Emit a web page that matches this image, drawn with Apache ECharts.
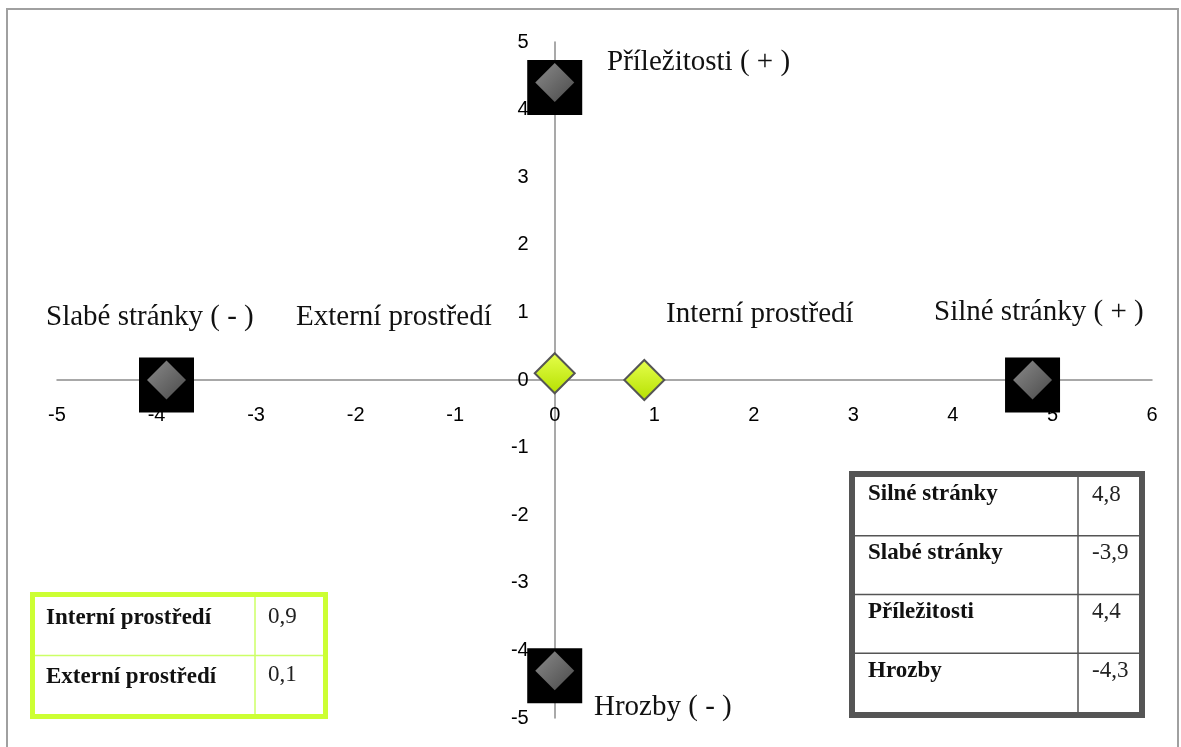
<!DOCTYPE html>
<html>
<head>
<meta charset="utf-8">
<script src="https://cdn.jsdelivr.net/npm/echarts@6/dist/echarts.min.js"></script>
<style>html,body{margin:0;padding:0;background:#fff;}#c{width:1181px;height:747px;}</style>
</head>
<body>
<div id="c"></div>
<script>
// ---- data ----
const mainNames = ['Silné stránky', 'Slabé stránky', 'Příležitosti', 'Hrozby'];
const mainValues = [4.8, -3.9, 4.4, -4.3];
const envNames = ['Interní prostředí', 'Externí prostředí'];
const envValues = [0.9, 0.1];
const xMin = -5, xMax = 6, yMin = -5, yMax = 5;
const quadrantLabels = ['Příležitosti ( + )', 'Slabé stránky ( - )', 'Externí prostředí', 'Interní prostředí', 'Silné stránky ( + )', 'Hrozby ( - )'];
const valueText = v => String(v).replace('.', ',');

// points: strengths/weaknesses on x axis, opportunities/threats on y axis
const mainPts = [
  [mainValues[0], 0], [mainValues[1], 0], [0, mainValues[2]], [0, mainValues[3]]
];
const envPts = [[envValues[0], 0], [0, envValues[1]]];

const serif = '"Liberation Serif", "Times New Roman", serif';
const G = {left: 57, right: 29, top: 42, bottom: 29};
const W = 1181, H = 747;
const plotW = W - G.left - G.right, plotH = H - G.top - G.bottom;
const zeroXoff = plotW * (0 - xMin) / (xMax - xMin);   // distance of x=0 from left edge
const zeroYoff = plotH * (0 - yMin) / (yMax - yMin);   // distance of y=0 from bottom edge

const graphics = [];
// outer frame
graphics.push({type: 'rect', z: 0, shape: {x: 7, y: 9, width: 1171, height: 760}, style: {fill: 'none', stroke: '#a0a0a0', lineWidth: 2}, silent: true});
// quadrant labels
const qPos = [[607, 60], [46, 315], [296, 315], [666, 312], [934, 310], [594, 705]];
quadrantLabels.forEach((t, i) => {
  graphics.push({type: 'text', z: 50, left: qPos[i][0], top: qPos[i][1] - 12,
    style: {text: t, font: '29px ' + serif, fill: '#111', backgroundColor: '#fff'}});
});
// right table
(function () {
  const x0 = 855, y0 = 477, w = 290, rowH = 58.75, colX = 1078;
  const h = rowH * mainNames.length;
  graphics.push({type: 'rect', z: 40, shape: {x: x0 - 3, y: y0 - 3, width: w, height: h + 6}, style: {fill: '#fff', stroke: '#555', lineWidth: 6}});
  graphics.push({type: 'line', z: 41, shape: {x1: colX, y1: y0, x2: colX, y2: y0 + h}, style: {stroke: '#555', lineWidth: 1.5}});
  for (let i = 1; i < mainNames.length; i++) {
    graphics.push({type: 'line', z: 41, shape: {x1: x0, y1: y0 + i * rowH, x2: x0 + w - 6, y2: y0 + i * rowH}, style: {stroke: '#555', lineWidth: 1.5}});
  }
  mainNames.forEach((n, i) => {
    graphics.push({type: 'text', z: 42, left: 868, top: y0 + i * rowH + 6, style: {text: n, font: 'bold 23px ' + serif, fill: '#111'}});
    graphics.push({type: 'text', z: 42, left: 1092, top: y0 + i * rowH + 6, style: {text: valueText(mainValues[i]), font: '23px ' + serif, fill: '#222'}});
  });
})();
// left table
(function () {
  const x0 = 35, y0 = 597, w = 288, rowH = 58.5, colX = 255;
  const h = rowH * envNames.length;
  graphics.push({type: 'rect', z: 40, shape: {x: x0 - 2.5, y: y0 - 2.5, width: w + 5, height: h + 5}, style: {fill: '#fff', stroke: '#ccff33', lineWidth: 5}});
  graphics.push({type: 'line', z: 41, shape: {x1: colX, y1: y0, x2: colX, y2: y0 + h}, style: {stroke: '#ccff66', lineWidth: 1.5}});
  for (let i = 1; i < envNames.length; i++) {
    graphics.push({type: 'line', z: 41, shape: {x1: x0, y1: y0 + i * rowH, x2: x0 + w, y2: y0 + i * rowH}, style: {stroke: '#ccff66', lineWidth: 1.5}});
  }
  envNames.forEach((n, i) => {
    graphics.push({type: 'text', z: 42, left: 46, top: y0 + i * rowH + 10, style: {text: n, font: 'bold 23px ' + serif, fill: '#111'}});
    graphics.push({type: 'text', z: 42, left: 268, top: y0 + i * rowH + 8, style: {text: valueText(envValues[i]), font: '23px ' + serif, fill: '#222'}});
  });
})();

const chart = echarts.init(document.getElementById('c'), null, {renderer: 'canvas'});
const axisCommon = {
  type: 'value', interval: 1,
  axisLine: {onZero: false, lineStyle: {color: '#8c8c8c', width: 1.5}},
  axisTick: {show: false},
  splitLine: {show: false},
  axisLabel: {color: '#000', fontSize: 20, margin: 26, fontFamily: '"Liberation Sans", Arial, sans-serif'}
};
chart.setOption({
  animation: false,
  backgroundColor: '#fff',
  grid: {left: G.left, right: G.right, top: G.top, bottom: G.bottom, containLabel: false},
  xAxis: Object.assign({}, axisCommon, {min: xMin, max: xMax, position: 'bottom', offset: -zeroYoff,
    axisLabel: Object.assign({}, axisCommon.axisLabel, {margin: 25})}),
  yAxis: Object.assign({}, axisCommon, {min: yMin, max: yMax, position: 'left', offset: -zeroXoff}),
  series: [
    {type: 'scatter', z: 3, data: mainPts, symbol: 'rect', symbolSize: 55, symbolOffset: [0, 5], itemStyle: {color: '#000', opacity: 1}},
    {type: 'scatter', z: 4, data: mainPts, symbol: 'diamond', symbolSize: 39,
      itemStyle: {opacity: 1, color: new echarts.graphic.LinearGradient(0, 0, 1, 1, [{offset: 0, color: '#8a8a8a'}, {offset: 0.5, color: '#6a6a6a'}, {offset: 1, color: '#4a4a4a'}])}},
    {type: 'scatter', z: 5, data: envPts, symbol: 'diamond', symbolSize: 40,
      itemStyle: {opacity: 1, borderColor: '#555', borderWidth: 2, color: new echarts.graphic.LinearGradient(0, 0, 0, 1, [{offset: 0, color: '#e6ff4d'}, {offset: 1, color: '#b5e000'}])}}
  ],
  graphic: graphics
});
</script>
</body>
</html>
